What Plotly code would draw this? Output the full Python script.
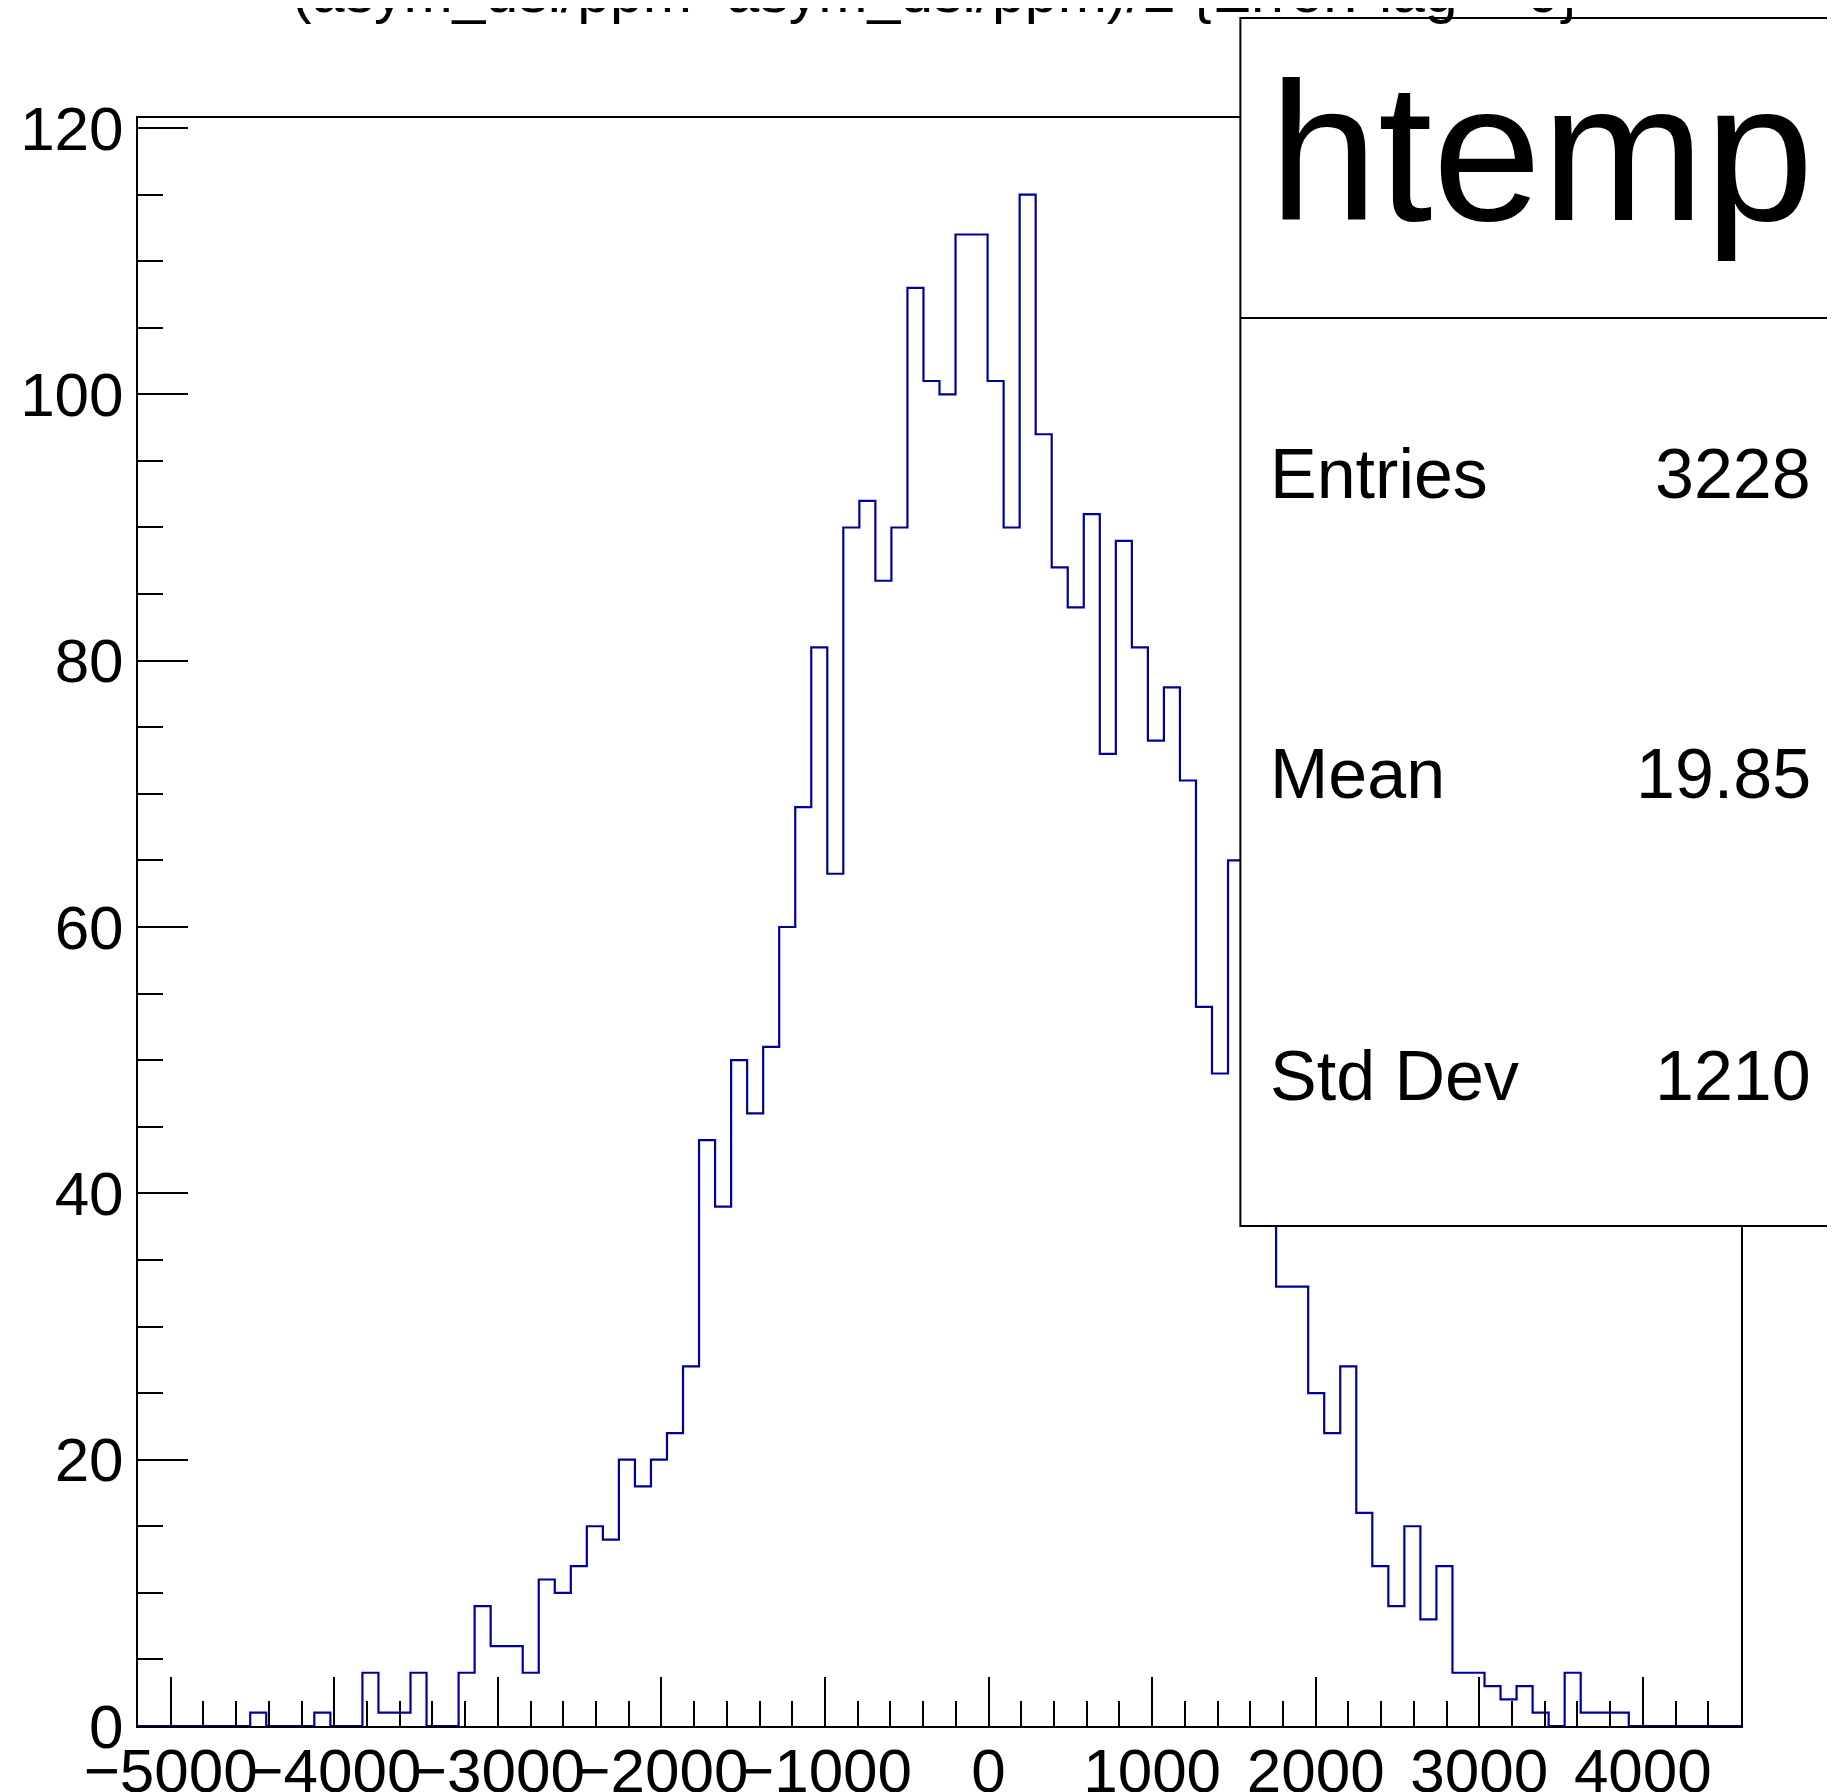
import plotly.graph_objects as go

# ---- data ----
x_min = -5200.0
x_max = 4600.0
n_bins = 100
counts = [
    0, 0, 0, 0, 0, 0, 0, 1, 0, 0,
    0, 1, 0, 0, 4, 1, 1, 4, 0, 0,
    4, 9, 6, 6, 4, 11, 10, 12, 15, 14,
    20, 18, 20, 22, 27, 44, 39, 50, 46, 51,
    60, 69, 81, 64, 90, 92, 86, 90, 108, 101,
    100, 112, 112, 101, 90, 115, 97, 87, 84, 91,
    73, 89, 81, 74, 78, 71, 54, 49, 65, 47,
    41, 33, 33, 25, 22, 27, 16, 12, 9, 15,
    8, 12, 4, 4, 3, 2, 3, 1, 0, 4,
    1, 1, 1, 0, 0, 0, 0, 0, 0, 0,
]
title_text = "(asym_usl/ppm+asym_dsl/ppm)/2 {ErrorFlag==0}"
hist_name = "htemp"
stat_labels = ["Entries", "Mean", "Std Dev"]
stat_values = ["3228", "19.85", "1210"]
y_max = 1.05 * max(counts)

bin_w = (x_max - x_min) / n_bins
edges = [x_min + i * bin_w for i in range(n_bins + 1)]
ys = counts + [counts[-1]]

# ---- layout geometry (page pixels) ----
W, H = 1835, 1792
OFF = 8  # default page body margin
PL, PR, PT, PB = 138.4, 1741.0, 118.0, 1726.0
FONT = "Liberation Sans, Arial, Helvetica, sans-serif"


def px(x):
    return (x - PL) / (PR - PL)


def py(y):
    return (PB - y) / (PB - PT)


fig = go.Figure()
fig.add_trace(go.Scatter(
    x=edges, y=ys, mode="lines", line=dict(color="#000099", width=2.2, shape="hv"),
    hoverinfo="skip", showlegend=False,
))

axis_common = dict(
    showgrid=False, zeroline=False, showline=True, linecolor="black", linewidth=2,
    mirror=True, ticks="inside", tickcolor="black", tickwidth=2, automargin=False,
    tickfont=dict(family=FONT, size=62, color="black"),
)

fig.update_xaxes(
    range=[x_min, x_max], tick0=0, dtick=1000, ticklen=49, tickangle=0,
    minor=dict(dtick=200, tick0=0, ticklen=25, ticks="inside", tickcolor="black", tickwidth=2),
    ticklabelstandoff=-10,
    **axis_common,
)
fig.update_yaxes(
    range=[0, y_max], tick0=0, dtick=20, ticklen=50,
    minor=dict(dtick=5, tick0=0, ticklen=25, ticks="inside", tickcolor="black", tickwidth=2),
    ticklabelstandoff=0,
    **axis_common,
)

# stats box
box_l, box_t, box_b, box_div = 1240.5, 18.0, 1226.0, 318.0
fig.add_shape(type="rect", xref="paper", yref="paper",
              x0=px(box_l), x1=px(W + 20), y0=py(box_b), y1=py(box_t),
              line=dict(color="black", width=2), fillcolor="white", layer="above")
fig.add_shape(type="line", xref="paper", yref="paper",
              x0=px(box_l), x1=px(W + 20), y0=py(box_div), y1=py(box_div),
              line=dict(color="black", width=2), layer="above")

annots = []


def add_text(text, x, baseline, size, anchor):
    yc = baseline - 0.3465 * size
    annots.append(dict(
        text=text, xref="paper", yref="paper", x=px(x), y=py(yc),
        xanchor=anchor, yanchor="middle", showarrow=False,
        font=dict(family=FONT, size=size, color="black"),
    ))


add_text(title_text, 936, 12, 59, "center")
add_text(hist_name, 1267, 220, 196, "left")
baselines = [498, 798, 1100]
for lab, val, b in zip(stat_labels, stat_values, baselines):
    add_text(lab, 1268, b, 70, "left")
    add_text(val, 1813, b, 70, "right")

fig.update_layout(
    width=W, height=H, autosize=False,
    margin=dict(l=PL - OFF, r=W - PR + OFF, t=PT - OFF, b=H - PB + OFF, pad=0),
    paper_bgcolor="white", plot_bgcolor="white",
    annotations=annots, showlegend=False,
    font=dict(family=FONT),
)

fig.write_html("out.html")
